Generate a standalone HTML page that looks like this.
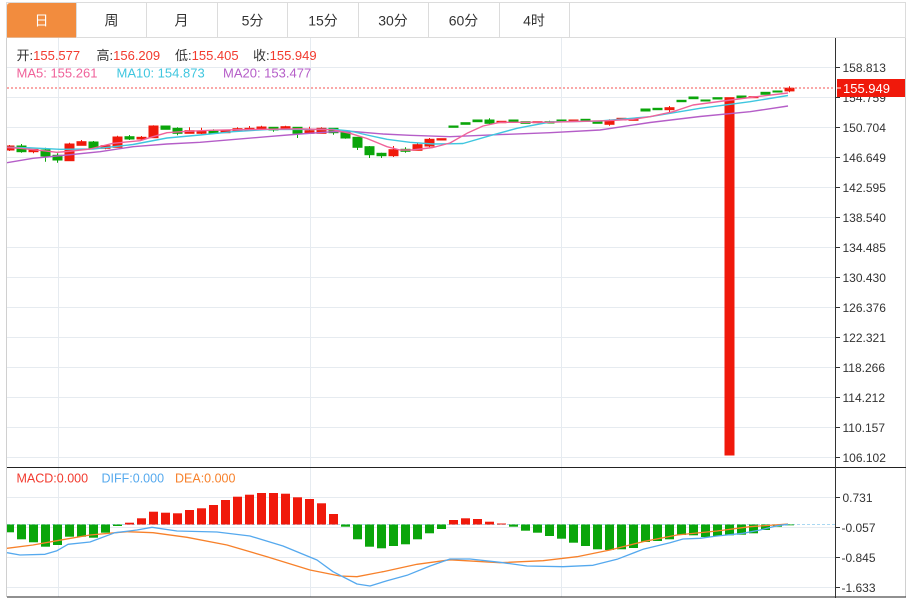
<!DOCTYPE html>
<html><head><meta charset="utf-8"><style>
html,body{margin:0;padding:0;background:#fff;}
svg{display:block;}
text{font-family:"Liberation Sans","Noto Sans CJK SC",sans-serif;}
</style></head><body>
<svg width="913" height="598" viewBox="0 0 913 598" xmlns="http://www.w3.org/2000/svg">
<defs><clipPath id="plot"><rect x="7" y="38" width="828" height="428"/></clipPath>
<clipPath id="mplot"><rect x="7" y="468" width="828" height="129"/></clipPath></defs>
<rect x="0" y="0" width="913" height="598" fill="#fff"/>
<!-- tab bar -->
<rect x="6.5" y="2.5" width="899" height="35" fill="#fff" stroke="#dcdcdc"/>
<path d="M7 38 V6 Q7 3 10 3 H76 V37.5 H7 Z" fill="#f28c3e"/>
<g stroke="#dcdcdc"><line x1="76.5" y1="3" x2="76.5" y2="37"/><line x1="146.5" y1="3" x2="146.5" y2="37"/><line x1="217.5" y1="3" x2="217.5" y2="37"/><line x1="287.5" y1="3" x2="287.5" y2="37"/><line x1="358.5" y1="3" x2="358.5" y2="37"/><line x1="428.5" y1="3" x2="428.5" y2="37"/><line x1="499.5" y1="3" x2="499.5" y2="37"/><line x1="569.5" y1="3" x2="569.5" y2="37"/></g>
<g font-size="14" text-anchor="middle" fill="#333">
<text x="41.5" y="25.5" fill="#fff">日</text><text x="111.5" y="25.5">周</text><text x="181.5" y="25.5">月</text><text x="252.5" y="25.5">5分</text><text x="323" y="25.5">15分</text><text x="393" y="25.5">30分</text><text x="463.5" y="25.5">60分</text><text x="534" y="25.5">4时</text>
</g>
<!-- frame -->
<line x1="6.5" y1="38" x2="6.5" y2="597" stroke="#d0d0d0"/>
<line x1="905.5" y1="38" x2="905.5" y2="597" stroke="#d0d0d0"/>
<!-- grid -->
<g stroke="#e6ebf0">
<line x1="7" y1="67.5" x2="835" y2="67.5"/><line x1="7" y1="97.5" x2="835" y2="97.5"/><line x1="7" y1="127.5" x2="835" y2="127.5"/><line x1="7" y1="157.5" x2="835" y2="157.5"/><line x1="7" y1="187.5" x2="835" y2="187.5"/><line x1="7" y1="217.5" x2="835" y2="217.5"/><line x1="7" y1="247.5" x2="835" y2="247.5"/><line x1="7" y1="277.5" x2="835" y2="277.5"/><line x1="7" y1="307.5" x2="835" y2="307.5"/><line x1="7" y1="337.5" x2="835" y2="337.5"/><line x1="7" y1="367.5" x2="835" y2="367.5"/><line x1="7" y1="397.5" x2="835" y2="397.5"/><line x1="7" y1="427.5" x2="835" y2="427.5"/><line x1="7" y1="457.5" x2="835" y2="457.5"/>
<line x1="7" y1="497.5" x2="835" y2="497.5"/><line x1="7" y1="527.5" x2="835" y2="527.5"/><line x1="7" y1="557.5" x2="835" y2="557.5"/><line x1="7" y1="587.5" x2="835" y2="587.5"/>
<line x1="58.5" y1="38" x2="58.5" y2="597"/><line x1="310.5" y1="38" x2="310.5" y2="597"/><line x1="561.5" y1="38" x2="561.5" y2="597"/>
</g>
<!-- candles -->
<g clip-path="url(#plot)">
<g stroke="#f0190b" fill="#f0190b">
<line x1="9.5" y1="145" x2="9.5" y2="151"/><rect x="5" y="146" width="9" height="4"/>
<line x1="33.5" y1="149" x2="33.5" y2="153.3"/><rect x="29" y="149.3" width="9" height="2.4"/>
<line x1="69.5" y1="142.7" x2="69.5" y2="160.7"/><rect x="65" y="144" width="9" height="16.7"/>
<line x1="81.5" y1="140" x2="81.5" y2="145.3"/><rect x="77" y="141.7" width="9" height="3.6"/>
<line x1="105.5" y1="145" x2="105.5" y2="149.3"/><rect x="101" y="145.7" width="9" height="2.6"/>
<line x1="117.5" y1="135.7" x2="117.5" y2="147.3"/><rect x="113" y="137" width="9" height="10.3"/>
<line x1="141.5" y1="136" x2="141.5" y2="140"/><rect x="137" y="137.3" width="9" height="1.7"/>
<line x1="153.5" y1="125.3" x2="153.5" y2="137.7"/><rect x="149" y="126" width="9" height="11.7"/>
<line x1="189.5" y1="127.3" x2="189.5" y2="133.3"/><rect x="185" y="130.7" width="9" height="2.6"/>
<line x1="201.5" y1="127.7" x2="201.5" y2="134"/><rect x="197" y="131" width="9" height="2.3"/>
<rect x="221" y="130" width="9" height="2.7"/>
<line x1="237.5" y1="127.3" x2="237.5" y2="131"/><rect x="233" y="128.7" width="9" height="2.3"/>
<line x1="249.5" y1="126" x2="249.5" y2="130"/><rect x="245" y="128.3" width="9" height="1.7"/>
<line x1="261.5" y1="125.7" x2="261.5" y2="129.3"/><rect x="257" y="127" width="9" height="2.3"/>
<line x1="285.5" y1="125.7" x2="285.5" y2="129.3"/><rect x="281" y="126.7" width="9" height="2.6"/>
<line x1="309.5" y1="126.7" x2="309.5" y2="133.3"/><rect x="305" y="130.7" width="9" height="2.6"/>
<line x1="321.5" y1="127.3" x2="321.5" y2="133.3"/><rect x="317" y="128.3" width="9" height="5"/>
<line x1="393.5" y1="146" x2="393.5" y2="157"/><rect x="389" y="149.7" width="9" height="6"/>
<line x1="417.5" y1="143.3" x2="417.5" y2="150.3"/><rect x="413" y="144.7" width="9" height="5.6"/>
<line x1="429.5" y1="138" x2="429.5" y2="147.3"/><rect x="425" y="139.3" width="9" height="6.7"/>
<rect x="437" y="138.7" width="9" height="1.3"/>
<rect x="497" y="121.3" width="9" height="1.4"/>
<rect x="533" y="121.7" width="9" height="1"/>
<rect x="569" y="120" width="9" height="1"/>
<line x1="609.5" y1="119.3" x2="609.5" y2="125.7"/><rect x="605" y="120.7" width="9" height="3.6"/>
<rect x="617" y="118.3" width="9" height="1.7"/>
<rect x="629" y="119.3" width="9" height="1"/>
<line x1="669.5" y1="106" x2="669.5" y2="112.3"/><rect x="665" y="107.7" width="9" height="2"/>
<rect x="725" y="97.7" width="9" height="357.3"/>
<rect x="749" y="96.7" width="9" height="1"/>
<line x1="789.5" y1="86.3" x2="789.5" y2="92.2"/><rect x="785" y="88.2" width="9" height="2.7"/>
</g>
<g stroke="#0aa50a" fill="#0aa50a">
<line x1="21.5" y1="144" x2="21.5" y2="152.7"/><rect x="17" y="146" width="9" height="5.7"/>
<line x1="45.5" y1="147.7" x2="45.5" y2="161.7"/><rect x="41" y="150" width="9" height="6"/>
<line x1="57.5" y1="153.3" x2="57.5" y2="162.7"/><rect x="53" y="155.3" width="9" height="4.7"/>
<line x1="93.5" y1="141" x2="93.5" y2="148.3"/><rect x="89" y="142" width="9" height="6.3"/>
<line x1="129.5" y1="135" x2="129.5" y2="140"/><rect x="125" y="136.7" width="9" height="2.3"/>
<rect x="161" y="126" width="9" height="3.3"/>
<line x1="177.5" y1="127.3" x2="177.5" y2="135.3"/><rect x="173" y="128.3" width="9" height="5"/>
<line x1="213.5" y1="129.3" x2="213.5" y2="134"/><rect x="209" y="131.3" width="9" height="2"/>
<line x1="273.5" y1="127.3" x2="273.5" y2="131.7"/><rect x="269" y="127.3" width="9" height="2.7"/>
<line x1="297.5" y1="127.3" x2="297.5" y2="138"/><rect x="293" y="127.3" width="9" height="6"/>
<line x1="333.5" y1="128.3" x2="333.5" y2="134.7"/><rect x="329" y="128.3" width="9" height="4.4"/>
<line x1="345.5" y1="131.7" x2="345.5" y2="138.7"/><rect x="341" y="131.7" width="9" height="6.3"/>
<line x1="357.5" y1="137.3" x2="357.5" y2="150"/><rect x="353" y="137.3" width="9" height="10"/>
<line x1="369.5" y1="146" x2="369.5" y2="158"/><rect x="365" y="146.7" width="9" height="8"/>
<line x1="381.5" y1="152.7" x2="381.5" y2="158"/><rect x="377" y="153.3" width="9" height="2.4"/>
<line x1="405.5" y1="147.3" x2="405.5" y2="152.7"/><rect x="401" y="149.3" width="9" height="2"/>
<rect x="449" y="126" width="9" height="1.3"/>
<rect x="461" y="122.7" width="9" height="1.6"/>
<rect x="473" y="120" width="9" height="1.7"/>
<line x1="489.5" y1="118.3" x2="489.5" y2="125"/><rect x="485" y="120" width="9" height="3.3"/>
<rect x="509" y="120" width="9" height="1.7"/>
<rect x="521" y="121.7" width="9" height="1.6"/>
<line x1="549.5" y1="120.7" x2="549.5" y2="123"/><rect x="545" y="121.7" width="9" height="1.3"/>
<rect x="557" y="120" width="9" height="1.3"/>
<rect x="581" y="119.3" width="9" height="1.7"/>
<rect x="593" y="121.7" width="9" height="1.6"/>
<rect x="641" y="109" width="9" height="2"/>
<rect x="653" y="108.3" width="9" height="1.4"/>
<rect x="677" y="100.3" width="9" height="1.4"/>
<rect x="689" y="97" width="9" height="1.7"/>
<rect x="701" y="100" width="9" height="1"/>
<rect x="713" y="97.7" width="9" height="1.3"/>
<rect x="737" y="96" width="9" height="1.7"/>
<rect x="761" y="92.3" width="9" height="2"/>
<rect x="773" y="91" width="9" height="1"/>
</g>
<!-- MA lines -->
<g fill="none" stroke-width="1.4" stroke-linejoin="round">
<polyline stroke="#b55ec8" points="7,162.7 33,158.3 67,155 100,151.7 133,146.7 167,144 200,142.3 267,136.7 300,134 333,131.7 353,131.5 383,134 410,135.3 450,136.7 500,134.6 550,132.7 600,130 650,122.5 700,116.5 750,111.7 788,106"/>
<polyline stroke="#3fc6df" points="7,147.3 30,147.8 60,149.3 93,149 133,144.5 167,138 200,135 233,131.7 267,129.5 333,129.3 350,131 367,135 387,139.3 410,142.3 433,144 450,143.8 463,143.5 490,135.7 517,128.3 550,122 600,121 650,116.7 700,108.3 750,101.7 788,95.5"/>
<polyline stroke="#f0629a" points="7,147.5 20,148.3 43,150.7 57,152.3 67,151.5 90,149 113,143.3 140,140.7 153,136.7 167,132.7 187,131.3 210,130.3 250,129.5 300,128.8 333,129.8 350,133.3 367,138.5 387,146.7 400,150 412,150 433,147.5 450,143 467,133.3 483,126 500,122.3 550,122.2 607,120.7 633,119.3 650,116.7 673,111.7 693,105 727,100.5 750,97.5 788,93"/>
</g>
</g>
<!-- last price dotted line -->
<line x1="7" y1="88" x2="835" y2="88" stroke="#f55050" stroke-dasharray="2,2" stroke-width="1"/>
<!-- info text -->
<g font-size="13">
<text x="16.5" y="60" fill="#333">开:<tspan fill="#f23a2e">155.577</tspan></text>
<text x="96.5" y="60" fill="#333">高:<tspan fill="#f23a2e">156.209</tspan></text>
<text x="175" y="60" fill="#333">低:<tspan fill="#f23a2e">155.405</tspan></text>
<text x="253" y="60" fill="#333">收:<tspan fill="#f23a2e">155.949</tspan></text>
<text x="16.5" y="77.5" fill="#f0629a">MA5: 155.261</text>
<text x="116.5" y="77.5" fill="#3fc6df">MA10: 154.873</text>
<text x="223" y="77.5" fill="#b55ec8">MA20: 153.477</text>
</g>
<!-- MACD panel -->
<line x1="7" y1="467.5" x2="906" y2="467.5" stroke="#222"/>
<line x1="7" y1="597" x2="906" y2="597" stroke="#222"/>
<g clip-path="url(#mplot)">
<line x1="7" y1="524.5" x2="835" y2="524.5" stroke="#a9d8f2" stroke-dasharray="3,2"/>
<g fill="#0aa50a">
<rect x="5" y="524.5" width="9" height="7.8"/><rect x="17" y="524.5" width="9" height="14.8"/><rect x="29" y="524.5" width="9" height="17.8"/><rect x="41" y="524.5" width="9" height="22.2"/><rect x="53" y="524.5" width="9" height="20.5"/><rect x="65" y="524.5" width="9" height="12.2"/><rect x="77" y="524.5" width="9" height="12.2"/><rect x="89" y="524.5" width="9" height="13.2"/><rect x="101" y="524.5" width="9" height="8.2"/><rect x="113" y="524.5" width="9" height="1.5"/>
<rect x="341" y="524.5" width="9" height="2.2"/><rect x="353" y="524.5" width="9" height="14.8"/><rect x="365" y="524.5" width="9" height="22.2"/><rect x="377" y="524.5" width="9" height="23.8"/><rect x="389" y="524.5" width="9" height="21.5"/><rect x="401" y="524.5" width="9" height="19.8"/><rect x="413" y="524.5" width="9" height="14.8"/><rect x="425" y="524.5" width="9" height="8.8"/><rect x="437" y="524.5" width="9" height="4.5"/>
<rect x="509" y="524.5" width="9" height="2.2"/><rect x="521" y="524.5" width="9" height="6.2"/><rect x="533" y="524.5" width="9" height="8.2"/><rect x="545" y="524.5" width="9" height="11.5"/><rect x="557" y="524.5" width="9" height="14.2"/><rect x="569" y="524.5" width="9" height="18.2"/><rect x="581" y="524.5" width="9" height="21.5"/><rect x="593" y="524.5" width="9" height="24.8"/><rect x="605" y="524.5" width="9" height="25.5"/><rect x="617" y="524.5" width="9" height="24.8"/><rect x="629" y="524.5" width="9" height="23.5"/><rect x="641" y="524.5" width="9" height="17.5"/><rect x="653" y="524.5" width="9" height="16.5"/><rect x="665" y="524.5" width="9" height="14.8"/><rect x="677" y="524.5" width="9" height="10.5"/><rect x="689" y="524.5" width="9" height="10.8"/><rect x="701" y="524.5" width="9" height="12.5"/><rect x="713" y="524.5" width="9" height="11.5"/><rect x="725" y="524.5" width="9" height="10.8"/><rect x="737" y="524.5" width="9" height="10.2"/><rect x="749" y="524.5" width="9" height="8.8"/><rect x="761" y="524.5" width="9" height="5.5"/><rect x="773" y="524.5" width="9" height="2.2"/><rect x="785" y="524.5" width="9" height="0.8"/>
</g>
<g fill="#f0190b">
<rect x="125" y="522.7" width="9" height="1.8"/><rect x="137" y="518.3" width="9" height="6.2"/><rect x="149" y="511.7" width="9" height="12.8"/><rect x="161" y="512.7" width="9" height="11.8"/><rect x="173" y="513.3" width="9" height="11.2"/><rect x="185" y="510" width="9" height="14.5"/><rect x="197" y="508.3" width="9" height="16.2"/><rect x="209" y="505" width="9" height="19.5"/><rect x="221" y="500" width="9" height="24.5"/><rect x="233" y="496.7" width="9" height="27.8"/><rect x="245" y="494.7" width="9" height="29.8"/><rect x="257" y="493" width="9" height="31.5"/><rect x="269" y="493" width="9" height="31.5"/><rect x="281" y="493.7" width="9" height="30.8"/><rect x="293" y="497.3" width="9" height="27.2"/><rect x="305" y="499" width="9" height="25.5"/><rect x="317" y="503.3" width="9" height="21.2"/><rect x="329" y="514" width="9" height="10.5"/>
<rect x="449" y="520" width="9" height="4.5"/><rect x="461" y="518.3" width="9" height="6.2"/><rect x="473" y="519" width="9" height="5.5"/><rect x="485" y="521.7" width="9" height="2.8"/><rect x="497" y="523.5" width="9" height="1"/>
</g>
<g fill="none" stroke-width="1.3" stroke-linejoin="round">
<polyline stroke="#f7812b" points="7,548.3 33,545 57,540.7 90,535 127,531.7 153,532.7 187,537.3 227,545 267,556.7 310,570 340,576 357,576.7 383,571.7 417,564.3 450,559.8 500,562.7 543,560.7 577,556.7 610,550 643,541.7 677,535 717,531 750,526.7 788,524"/>
<polyline stroke="#55a9ee" points="7,552.7 20,555 45,554.3 57,550.7 68,544.3 90,542 115,532.7 137,530 152,527.3 177,531 217,532 250,536 283,546 317,560 333,571.7 357,584 370,586 387,580.7 407,575.3 430,566 450,559 470,559 500,562.3 527,566 563,566.7 593,565.3 617,559.3 643,549.3 670,542.7 683,539 700,538.3 717,536 743,533.3 760,530 777,525.7 788,524.3"/>
</g>
</g>
<g font-size="12.5">
<text x="16.5" y="482.5" fill="#f23a2e">MACD:0.000</text>
<text x="101.5" y="482.5" fill="#55a9ee">DIFF:0.000</text>
<text x="175" y="482.5" fill="#f7812b">DEA:0.000</text>
</g>
<!-- axis -->
<line x1="835.5" y1="38" x2="835.5" y2="598" stroke="#333"/>
<g stroke="#333">
<line x1="836" y1="67.5" x2="840" y2="67.5"/><line x1="836" y1="97.5" x2="840" y2="97.5"/><line x1="836" y1="127.5" x2="840" y2="127.5"/><line x1="836" y1="157.5" x2="840" y2="157.5"/><line x1="836" y1="187.5" x2="840" y2="187.5"/><line x1="836" y1="217.5" x2="840" y2="217.5"/><line x1="836" y1="247.5" x2="840" y2="247.5"/><line x1="836" y1="277.5" x2="840" y2="277.5"/><line x1="836" y1="307.5" x2="840" y2="307.5"/><line x1="836" y1="337.5" x2="840" y2="337.5"/><line x1="836" y1="367.5" x2="840" y2="367.5"/><line x1="836" y1="397.5" x2="840" y2="397.5"/><line x1="836" y1="427.5" x2="840" y2="427.5"/><line x1="836" y1="457.5" x2="840" y2="457.5"/>
<line x1="836" y1="497.5" x2="840" y2="497.5"/><line x1="836" y1="527.5" x2="840" y2="527.5"/><line x1="836" y1="557.5" x2="840" y2="557.5"/><line x1="836" y1="587.5" x2="840" y2="587.5"/>
</g>
<g font-size="12" fill="#333">
<text x="842.5" y="72">158.813</text><text x="842.5" y="102">154.759</text><text x="842.5" y="132">150.704</text><text x="842.5" y="162">146.649</text><text x="842.5" y="192">142.595</text><text x="842.5" y="222">138.540</text><text x="842.5" y="252">134.485</text><text x="842.5" y="282">130.430</text><text x="842.5" y="312">126.376</text><text x="842.5" y="342">122.321</text><text x="842.5" y="372">118.266</text><text x="842.5" y="402">114.212</text><text x="842.5" y="432">110.157</text><text x="842.5" y="462">106.102</text>
<text x="842.5" y="502">0.731</text><text x="841.5" y="532">-0.057</text><text x="841.5" y="562">-0.845</text><text x="841.5" y="592">-1.633</text>
</g>
<rect x="837" y="79" width="68" height="18" fill="#f0190b"/>
<line x1="837" y1="88" x2="841" y2="88" stroke="#fff"/>
<text x="843" y="93" font-size="13" fill="#fff">155.949</text>
</svg>
</body></html>
